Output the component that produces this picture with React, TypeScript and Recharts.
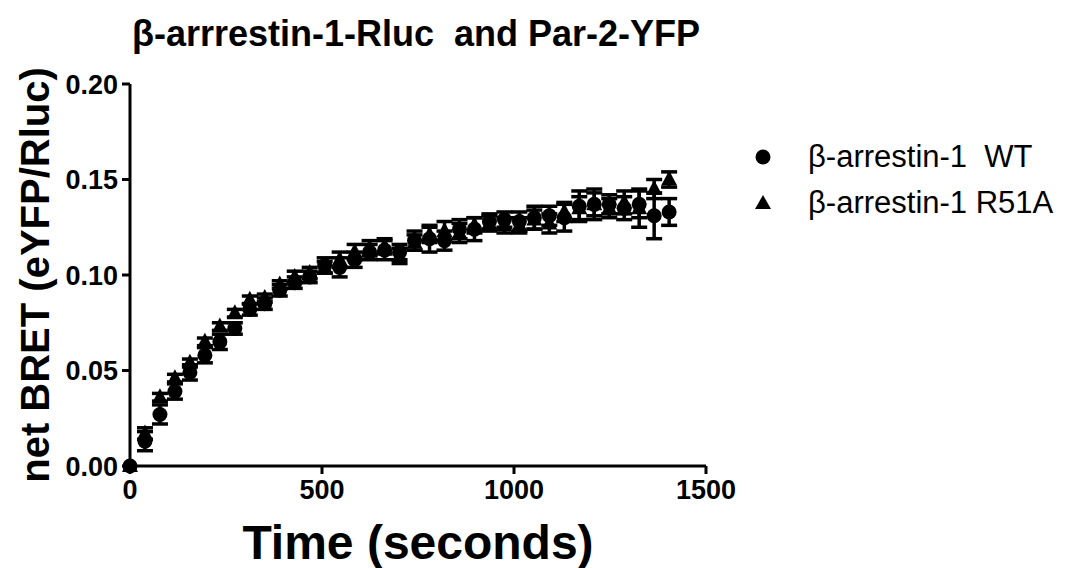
import React from 'react';
import { ScatterChart, Scatter, XAxis, YAxis, ErrorBar } from 'recharts';

// sampling times (s)
const times = [
  0, 39, 78, 117, 156, 195, 234, 273, 312, 351, 390, 429, 468, 507, 546, 585, 624, 663, 702,
  741, 780, 819, 858, 897, 936, 975, 1014, 1053, 1092, 1131, 1170, 1209, 1248, 1287, 1326,
  1365, 1404,
];

const wtMean = [
  0, 0.013, 0.027, 0.039, 0.049, 0.058, 0.065, 0.072, 0.082, 0.085, 0.092, 0.096, 0.099, 0.105,
  0.104, 0.108, 0.112, 0.113, 0.112, 0.118, 0.119, 0.118, 0.124, 0.124, 0.128, 0.129, 0.128,
  0.13, 0.131, 0.13, 0.136, 0.137, 0.137, 0.135, 0.137, 0.131, 0.133,
];
const wtSem = [
  0, 0.005, 0.005, 0.004, 0.004, 0.004, 0.004, 0.003, 0.003, 0.003, 0.003, 0.003, 0.003, 0.004,
  0.005, 0.004, 0.004, 0.005, 0.004, 0.005, 0.007, 0.005, 0.005, 0.006, 0.004, 0.004, 0.005,
  0.006, 0.005, 0.007, 0.008, 0.006, 0.005, 0.006, 0.007, 0.012, 0.007,
];

const r51aMean = [
  0, 0.017, 0.036, 0.046, 0.054, 0.065, 0.073, 0.08, 0.087, 0.088, 0.095, 0.099, 0.101, 0.104,
  0.108, 0.112, 0.114, 0.115, 0.11, 0.117, 0.121, 0.123, 0.122, 0.126, 0.127, 0.126, 0.126,
  0.129, 0.127, 0.133, 0.135, 0.137, 0.135, 0.138, 0.135, 0.145, 0.15,
];
const r51aSem = [
  0, 0.003, 0.002, 0.002, 0.002, 0.002, 0.002, 0.002, 0.002, 0.002, 0.002, 0.003, 0.003, 0.003,
  0.004, 0.004, 0.004, 0.004, 0.004, 0.004, 0.004, 0.005, 0.005, 0.004, 0.004, 0.004, 0.004,
  0.005, 0.005, 0.005, 0.006, 0.008, 0.005, 0.006, 0.01, 0.005, 0.004,
];

const xTicks = [0, 500, 1000, 1500];
const yTicks = [0, 0.05, 0.1, 0.15, 0.2];

const wtData = times.map((t, i) => ({ t, y: wtMean[i], err: wtSem[i] }));
const r51aData = times.map((t, i) => ({ t, y: r51aMean[i], err: r51aSem[i] }));

const FONT = '"Liberation Sans", Arial, Helvetica, sans-serif';

const Dot = (props: any) => <circle cx={props.cx} cy={props.cy} r={7.5} fill="#000" />;

const Tri = (props: any) => {
  const { cx, cy } = props;
  return <polygon points={`${cx},${cy - 9} ${cx + 8},${cy + 6} ${cx - 8},${cy + 6}`} fill="#000" />;
};

export default function App() {
  const tickStyle = { fill: '#000', fontSize: 27, fontWeight: 'bold', fontFamily: FONT };
  return (
    <div style={{ position: 'absolute', left: 0, top: 0, width: 1065, height: 568, background: '#fff', fontFamily: FONT }}>
      <div
        style={{
          position: 'absolute',
          left: 132,
          top: 14,
          fontSize: 36,
          fontWeight: 'bold',
          whiteSpace: 'pre',
          lineHeight: '40px',
        }}
      >
        {'β-arrrestin-1-Rluc  and Par-2-YFP'}
      </div>

      <ScatterChart width={1065} height={568} margin={{ top: 84, right: 359, bottom: 62, left: 0 }}>
        <XAxis
          type="number"
          dataKey="t"
          domain={[0, 1500]}
          ticks={xTicks}
          height={40}
          axisLine={{ stroke: '#000', strokeWidth: 3 }}
          tickLine={{ stroke: '#000', strokeWidth: 3 }}
          tickSize={8}
          tickMargin={6}
          tick={tickStyle}
        />
        <YAxis
          type="number"
          dataKey="y"
          domain={[0, 0.2]}
          ticks={yTicks}
          width={130}
          axisLine={{ stroke: '#000', strokeWidth: 3 }}
          tickLine={{ stroke: '#000', strokeWidth: 3 }}
          tickSize={8}
          tickMargin={4}
          tick={tickStyle}
          tickFormatter={(v: number) => v.toFixed(2)}
        />
        <Scatter data={wtData} shape={Dot} isAnimationActive={false}>
          <ErrorBar dataKey="err" direction="y" width={8} strokeWidth={3.5} stroke="#000" />
        </Scatter>
        <Scatter data={r51aData} shape={Tri} isAnimationActive={false}>
          <ErrorBar dataKey="err" direction="y" width={8} strokeWidth={3.5} stroke="#000" />
        </Scatter>
      </ScatterChart>

      <div
        style={{
          position: 'absolute',
          left: 418,
          top: 518,
          transform: 'translateX(-50%)',
          fontSize: 48,
          fontWeight: 'bold',
          whiteSpace: 'nowrap',
          lineHeight: '50px',
        }}
      >
        Time (seconds)
      </div>
      <div
        style={{
          position: 'absolute',
          left: 35,
          top: 275,
          transform: 'translate(-50%, -50%) rotate(-90deg)',
          fontSize: 40,
          fontWeight: 'bold',
          whiteSpace: 'nowrap',
          lineHeight: '44px',
        }}
      >
        net BRET (eYFP/Rluc)
      </div>

      <div style={{ position: 'absolute', left: 752, top: 139, fontSize: 31, lineHeight: '36px' }}>
        <div style={{ display: 'flex', alignItems: 'center', height: 36 }}>
          <svg width={24} height={24} style={{ flex: 'none' }}>
            <circle cx={11} cy={12} r={7.5} fill="#000" />
          </svg>
          <span style={{ marginLeft: 32, whiteSpace: 'pre' }}>{'β-arrestin-1  WT'}</span>
        </div>
        <div style={{ display: 'flex', alignItems: 'center', height: 36, marginTop: 10 }}>
          <svg width={24} height={24} style={{ flex: 'none' }}>
            <polygon points="11,4 19,18 3,18" fill="#000" />
          </svg>
          <span style={{ marginLeft: 32, whiteSpace: 'pre' }}>β-arrestin-1 R51A</span>
        </div>
      </div>
    </div>
  );
}
